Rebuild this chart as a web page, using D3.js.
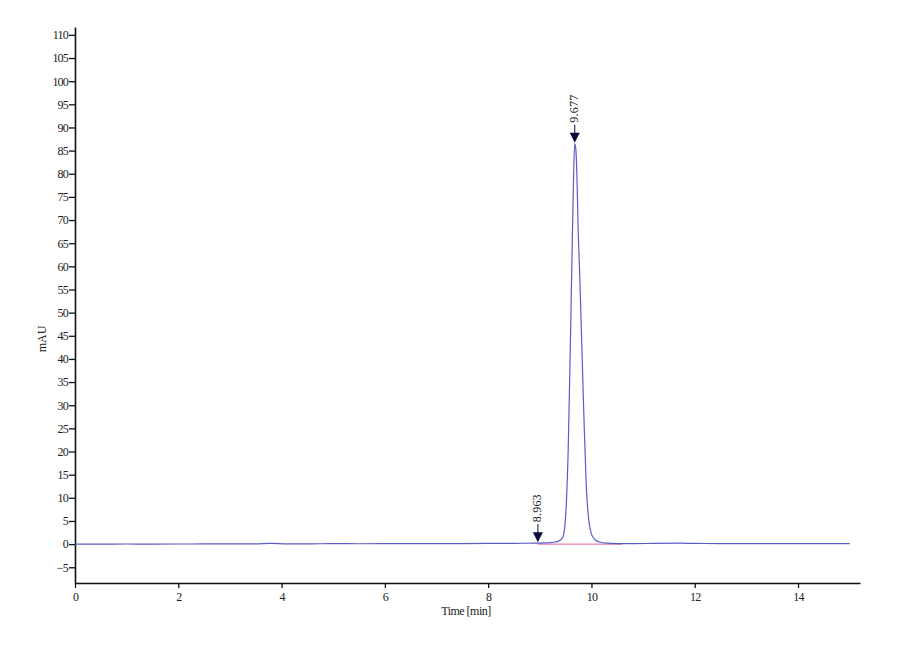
<!DOCTYPE html>
<html>
<head>
<meta charset="utf-8">
<script src="https://cdn.jsdelivr.net/npm/d3@7"></script>
<style>
  body { margin: 0; background: #fff; }
  text { font-family: "Liberation Serif", "DejaVu Serif", serif; fill: #222; }
</style>
</head>
<body>
<div id="chart"></div>
<script>
// chromatogram trace (time in min, signal in mAU)
const times = [0, 0.5, 1, 1.5, 2, 2.5, 3, 3.5, 3.8, 4.1, 4.5, 5, 5.5, 6, 6.5, 7, 7.5, 8, 8.5,
  8.9, 9.1, 9.2, 9.3, 9.35, 9.4, 9.45, 9.5, 9.55, 9.6, 9.63, 9.655, 9.677, 9.7, 9.72,
  9.745, 9.77, 9.8, 9.85, 9.9, 9.95, 10.0, 10.05, 10.1, 10.2, 10.3, 10.5, 10.8, 11.2,
  11.7, 12, 12.5, 13, 13.5, 14, 14.5, 15];
const signal = [0.0, 0.0, 0.02, 0.0, 0.02, 0.03, 0.03, 0.05, 0.15, 0.05, 0.05, 0.1, 0.08, 0.1, 0.1, 0.12, 0.12, 0.15, 0.18,
  0.2, 0.25, 0.3, 0.45, 0.6, 0.9, 1.6, 6.0, 20.5, 48, 66, 80, 86.5, 85, 79,
  67, 59, 48, 29, 12.5, 5, 2.2, 1.2, 0.7, 0.35, 0.2, 0.12, 0.1, 0.15,
  0.2, 0.15, 0.12, 0.1, 0.1, 0.1, 0.1, 0.1];

// peak markers
const peakTimes = [8.963, 9.677];
const peakValues = [0.2, 86.5];
const peakLabels = ["8.963", "9.677"];

// integration baseline under the peak
const baseTimes = [8.963, 10.6];
const baseValues = [0, 0];

const yTicks = [-5, 0, 5, 10, 15, 20, 25, 30, 35, 40, 45, 50, 55, 60, 65, 70, 75, 80, 85, 90, 95, 100, 105, 110];
const xTicks = [0, 2, 4, 6, 8, 10, 12, 14];

const width = 900, height = 660;
const plotLeft = 75, plotRight = 860, plotTop = 27, plotBottom = 583;

const svg = d3.select('#chart').append('svg')
    .attr('width', width)
    .attr('height', height);

const x = d3.scaleLinear().domain([0, 15.2]).range([plotLeft, plotRight]);
const y = d3.scaleLinear().domain([-8.4, 111.7]).range([plotBottom, plotTop]);

// axes
const yAxis = svg.append('g')
    .attr('transform', `translate(${plotLeft},0)`)
    .call(d3.axisLeft(y).tickValues(yTicks).tickSize(6).tickSizeOuter(0).tickPadding(1));

const xAxis = svg.append('g')
    .attr('transform', `translate(0,${plotBottom})`)
    .call(d3.axisBottom(x).tickValues(xTicks).tickSize(5).tickSizeOuter(0).tickPadding(4));

[yAxis, xAxis].forEach(a => {
    a.select('.domain').attr('stroke', '#111').attr('stroke-width', 1.6);
    a.selectAll('.tick line').attr('stroke', '#111').attr('stroke-width', 1.3);
    a.selectAll('.tick text')
        .style('font-family', '"Liberation Serif", serif')
        .style('font-size', '12px')
        .style('letter-spacing', '-0.8px')
        .attr('fill', '#333');
});

// axis titles
svg.append('text')
    .attr('transform', `translate(46,${(plotTop + plotBottom) / 2 + 34}) rotate(-90)`)
    .attr('text-anchor', 'middle')
    .style('font-size', '12px')
    .text('mAU');

svg.append('text')
    .attr('x', 466)
    .attr('y', 615)
    .attr('text-anchor', 'middle')
    .style('font-size', '12px')
    .style('letter-spacing', '-0.5px')
    .text('Time [min]');

// baseline
const baseData = baseTimes.map((t, i) => [t, baseValues[i]]);
svg.append('path')
    .datum(baseData)
    .attr('fill', 'none')
    .attr('stroke', '#e060a0')
    .attr('stroke-width', 1)
    .attr('d', d3.line().x(d => x(d[0])).y(d => y(d[1])));

// trace
const trace = times.map((t, i) => [t, signal[i]]);
svg.append('path')
    .datum(trace)
    .attr('fill', 'none')
    .attr('stroke', '#5c5cc8')
    .attr('stroke-width', 1.2)
    .attr('d', d3.line().curve(d3.curveMonotoneX).x(d => x(d[0])).y(d => y(d[1])));

// peak markers
const marks = svg.append('g')
    .selectAll('g')
    .data(peakTimes.map((t, i) => ({ t, v: peakValues[i], label: peakLabels[i] })))
    .enter()
    .append('g')
    .attr('transform', d => `translate(${x(d.t)},${y(d.v) - 1})`);

marks.append('line')
    .attr('y1', -18).attr('y2', -9)
    .attr('stroke', '#0b0b3f')
    .attr('stroke-width', 1);

marks.append('path')
    .attr('d', 'M-5,-10 L5,-10 L0,0 Z')
    .attr('fill', '#0b0b3f');

marks.append('text')
    .attr('transform', 'translate(3.5,-20) rotate(-90)')
    .attr('text-anchor', 'start')
    .style('font-size', '12px')
    .style('letter-spacing', '0.2px')
    .text(d => d.label);
</script>
</body>
</html>
